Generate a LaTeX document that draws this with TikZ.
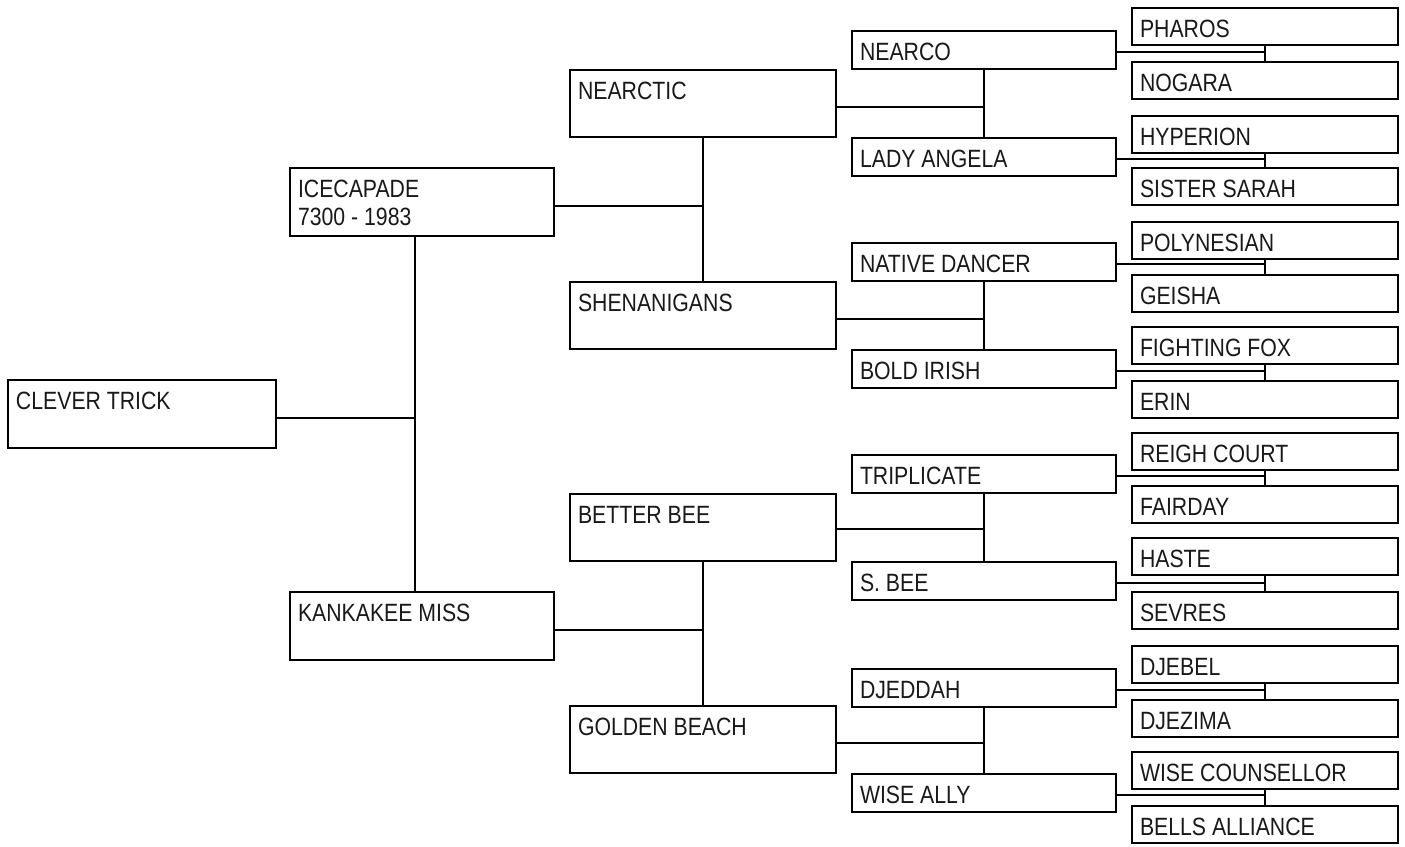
\documentclass[tikz,border=0pt]{standalone}
\usepackage{fontspec}
\setmainfont[FakeStretch=0.85]{Liberation Sans}
\tikzset{
  hbox/.style={draw=black, line width=1.8pt, anchor=north west, inner sep=0pt, outer sep=0pt, fill=white},
  htext/.style={anchor=base west, inner sep=0pt, outer sep=0pt, font=\fontsize{25}{28}\selectfont, text=black!90},
  link/.style={draw=black, line width=1.8pt}
}
\newcommand{\horse}[6]{%
  \node[hbox, minimum width=#4pt, minimum height=#5pt] (#1) at (#2,#3) {};
  \node[htext] (#1t) at ([xshift=8pt,yshift=-29.5pt]#1.north west) {#6};
}
\begin{document}
\begin{tikzpicture}[x=1pt,y=-1pt]
\useasboundingbox (0,0) rectangle (1405,846);
% generation 1
\horse{clever}{8}{380}{268}{68}{CLEVER TRICK}
% generation 2
\horse{ice}{290}{168}{264}{68}{ICECAPADE}
\node[htext] (icet2) at ([yshift=-28pt]icet.base west) {7300 - 1983};
\horse{kank}{290}{592}{264}{68}{KANKAKEE MISS}
% generation 3
\horse{nearctic}{570}{70}{266}{67}{NEARCTIC}
\horse{shen}{570}{282}{266}{67}{SHENANIGANS}
\horse{bbee}{570}{494}{266}{67}{BETTER BEE}
\horse{gbeach}{570}{706}{266}{67}{GOLDEN BEACH}
% generation 4
\horse{nearco}{852}{31}{264}{38}{NEARCO}
\horse{lady}{852}{138}{264}{38}{LADY ANGELA}
\horse{native}{852}{243}{264}{38}{NATIVE DANCER}
\horse{bold}{852}{350}{264}{38}{BOLD IRISH}
\horse{tripl}{852}{455}{264}{38}{TRIPLICATE}
\horse{sbee}{852}{562}{264}{38}{S. BEE}
\horse{djeddah}{852}{669}{264}{38}{DJEDDAH}
\horse{wally}{852}{774}{264}{38}{WISE ALLY}
% generation 5
\horse{pharos}{1132}{8}{266}{37}{PHAROS}
\horse{nogara}{1132}{62}{266}{37}{NOGARA}
\horse{hyperion}{1132}{116}{266}{37}{HYPERION}
\horse{sister}{1132}{168}{266}{37}{SISTER SARAH}
\horse{poly}{1132}{222}{266}{37}{POLYNESIAN}
\horse{geisha}{1132}{275}{266}{37}{GEISHA}
\horse{ffox}{1132}{327}{266}{37}{FIGHTING FOX}
\horse{erin}{1132}{381}{266}{37}{ERIN}
\horse{reigh}{1132}{433}{266}{37}{REIGH COURT}
\horse{fairday}{1132}{486}{266}{37}{FAIRDAY}
\horse{haste}{1132}{538}{266}{37}{HASTE}
\horse{sevres}{1132}{592}{266}{37}{SEVRES}
\horse{djebel}{1132}{646}{266}{37}{DJEBEL}
\horse{djezima}{1132}{700}{266}{37}{DJEZIMA}
\horse{wcouns}{1132}{752}{266}{37}{WISE COUNSELLOR}
\horse{bells}{1132}{806}{266}{37}{BELLS ALLIANCE}
% connectors gen1 -> gen2
\coordinate (j1) at ([xshift=-7pt]ice.south);
\draw[link] (j1) -- (j1 |- kank.north);
\draw[link] ([yshift=-4pt]clever.east) -- ([yshift=-4pt]clever.east -| j1);
% gen2 -> gen3
\draw[link] ([yshift=-4pt]ice.east) -- ([yshift=-4pt]ice.east -| nearctic.south);
\draw[link] (nearctic.south) -- (shen.north);
\draw[link] ([yshift=-4pt]kank.east) -- ([yshift=-4pt]kank.east -| bbee.south);
\draw[link] (bbee.south) -- (gbeach.north);
% gen3 -> gen4
\draw[link] ([yshift=-3.5pt]nearctic.east) -- ([yshift=-3.5pt]nearctic.east -| nearco.south);
\draw[link] (nearco.south) -- (lady.north);
\draw[link] ([yshift=-3.5pt]shen.east) -- ([yshift=-3.5pt]shen.east -| native.south);
\draw[link] (native.south) -- (bold.north);
\draw[link] ([yshift=-1.5pt]bbee.east) -- ([yshift=-1.5pt]bbee.east -| tripl.south);
\draw[link] (tripl.south) -- (sbee.north);
\draw[link] ([yshift=-3.5pt]gbeach.east) -- ([yshift=-3.5pt]gbeach.east -| djeddah.south);
\draw[link] (djeddah.south) -- (wally.north);
% gen4 -> gen5
\draw[link] ([yshift=-2pt]nearco.east) -- ([yshift=-2pt]nearco.east -| pharos.south);
\draw[link] (pharos.south) -- (nogara.north);
\draw[link] ([yshift=-2pt]lady.east) -- ([yshift=-2pt]lady.east -| hyperion.south);
\draw[link] (hyperion.south) -- (sister.north);
\draw[link] ([yshift=-2pt]native.east) -- ([yshift=-2pt]native.east -| poly.south);
\draw[link] (poly.south) -- (geisha.north);
\draw[link] ([yshift=-2pt]bold.east) -- ([yshift=-2pt]bold.east -| ffox.south);
\draw[link] (ffox.south) -- (erin.north);
\draw[link] ([yshift=-2pt]tripl.east) -- ([yshift=-2pt]tripl.east -| reigh.south);
\draw[link] (reigh.south) -- (fairday.north);
\draw[link] ([yshift=-2pt]sbee.east) -- ([yshift=-2pt]sbee.east -| haste.south);
\draw[link] (haste.south) -- (sevres.north);
\draw[link] ([yshift=-2pt]djeddah.east) -- ([yshift=-2pt]djeddah.east -| djebel.south);
\draw[link] (djebel.south) -- (djezima.north);
\draw[link] ([yshift=-2pt]wally.east) -- ([yshift=-2pt]wally.east -| wcouns.south);
\draw[link] (wcouns.south) -- (bells.north);
\end{tikzpicture}
\end{document}
